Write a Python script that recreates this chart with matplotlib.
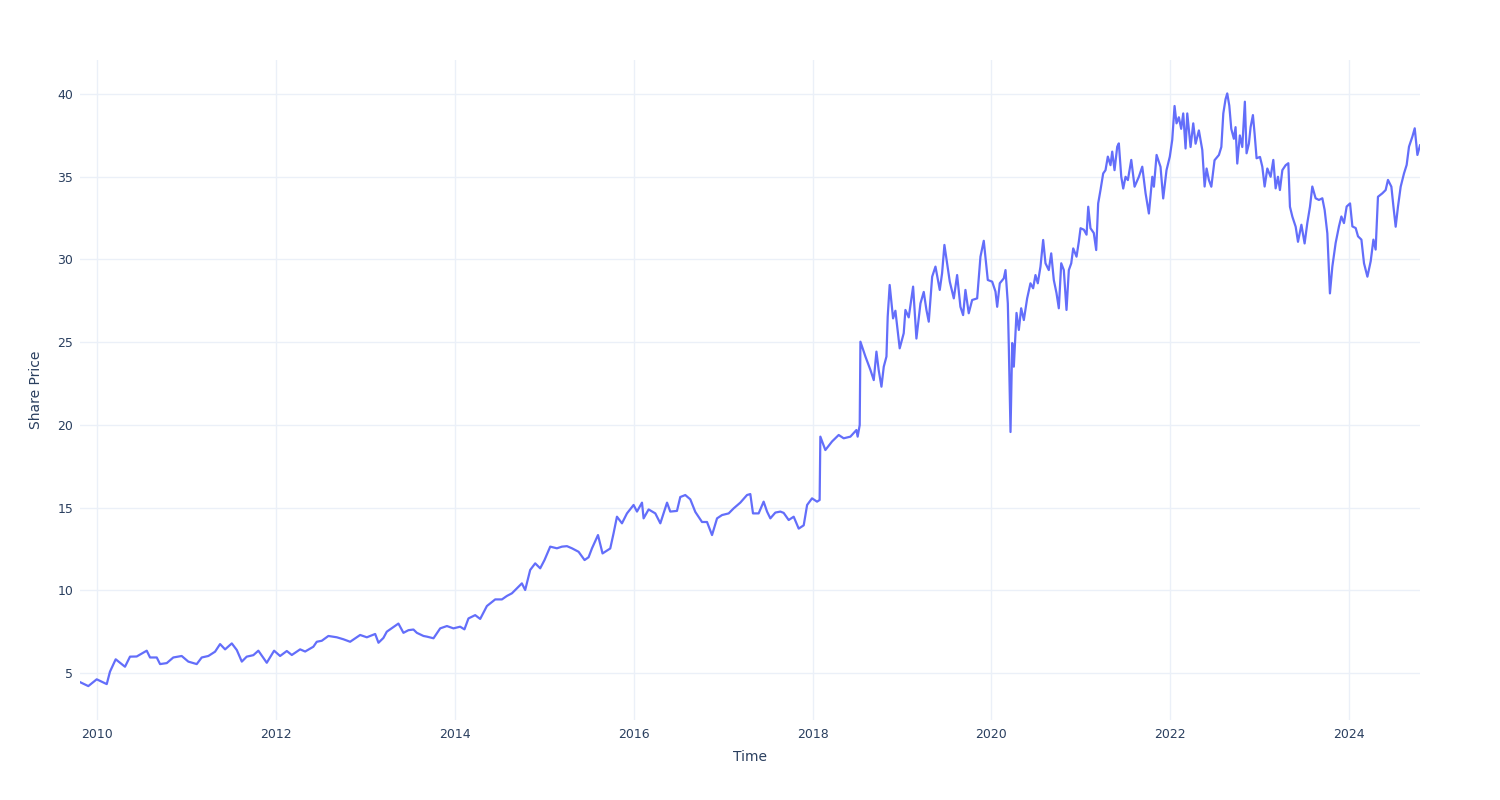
import numpy as np
import pandas as pd
import matplotlib
matplotlib.use("Agg")
import matplotlib.pyplot as plt
import matplotlib.dates as mdates

# share price, time as decimal years
t_2010_2013 = [
    2009.810, 2009.903, 2009.997, 2010.109, 2010.145, 2010.209, 2010.313, 2010.369,
    2010.444, 2010.556, 2010.593, 2010.668, 2010.705, 2010.780, 2010.853, 2010.947,
    2011.021, 2011.115, 2011.171, 2011.245, 2011.320, 2011.376, 2011.432, 2011.507,
    2011.563, 2011.619, 2011.674, 2011.748, 2011.804, 2011.898, 2011.980, 2012.047,
    2012.122, 2012.178, 2012.271, 2012.327, 2012.419, 2012.457, 2012.513, 2012.587,
    2012.681, 2012.755, 2012.830, 2012.942, 2013.017, 2013.110, 2013.147, 2013.202,
    2013.240, 2013.370, 2013.426, 2013.482, 2013.538, 2013.576, 2013.650, 2013.688,
]
p_2010_2013 = [
    4.45, 4.21, 4.62, 4.33, 5.08, 5.83, 5.38, 5.99,
    6.00, 6.35, 5.94, 5.94, 5.54, 5.60, 5.94, 6.03,
    5.69, 5.54, 5.94, 6.03, 6.29, 6.75, 6.43, 6.79,
    6.39, 5.69, 5.99, 6.08, 6.35, 5.62, 6.35, 6.03,
    6.33, 6.09, 6.43, 6.30, 6.59, 6.89, 6.95, 7.24,
    7.16, 7.04, 6.89, 7.30, 7.16, 7.36, 6.83, 7.12,
    7.50, 7.99, 7.43, 7.59, 7.63, 7.43, 7.24, 7.20,
]

t_2014_2017 = [
    2013.762, 2013.837, 2013.912, 2013.985, 2014.060, 2014.108, 2014.153, 2014.228,
    2014.284, 2014.359, 2014.452, 2014.527, 2014.583, 2014.639, 2014.695, 2014.750,
    2014.787, 2014.843, 2014.899, 2014.955, 2015.003, 2015.067, 2015.142, 2015.198,
    2015.254, 2015.310, 2015.384, 2015.451, 2015.496, 2015.534, 2015.601, 2015.652,
    2015.738, 2015.775, 2015.813, 2015.869, 2015.925, 2015.999, 2016.037, 2016.093,
    2016.111, 2016.167, 2016.242, 2016.298, 2016.373, 2016.409, 2016.484, 2016.521,
    2016.577, 2016.633, 2016.689, 2016.764, 2016.820, 2016.876, 2016.932, 2016.988,
    2017.062, 2017.117, 2017.192, 2017.267, 2017.304, 2017.334, 2017.397, 2017.453,
    2017.491, 2017.528, 2017.584, 2017.640, 2017.677, 2017.733, 2017.789, 2017.845,
    2017.901, 2017.939, 2017.994,
]
p_2014_2017 = [
    7.10, 7.70, 7.84, 7.70, 7.80, 7.64, 8.30, 8.50,
    8.27, 9.05, 9.45, 9.45, 9.66, 9.82, 10.12, 10.42,
    10.02, 11.23, 11.63, 11.33, 11.83, 12.64, 12.54, 12.64,
    12.67, 12.54, 12.33, 11.83, 12.00, 12.54, 13.34, 12.23,
    12.53, 13.44, 14.45, 14.05, 14.65, 15.16, 14.76, 15.30,
    14.35, 14.89, 14.65, 14.05, 15.30, 14.76, 14.80, 15.64,
    15.76, 15.50, 14.74, 14.13, 14.13, 13.34, 14.35, 14.55,
    14.65, 14.95, 15.30, 15.76, 15.82, 14.65, 14.65, 15.36,
    14.76, 14.35, 14.70, 14.76, 14.68, 14.25, 14.45, 13.73,
    13.93, 15.16, 15.56,
]

t_2018_2020 = [
    2018.050, 2018.079, 2018.087, 2018.143, 2018.218, 2018.292, 2018.348, 2018.423,
    2018.490, 2018.504, 2018.527, 2018.535, 2018.591, 2018.647, 2018.684, 2018.714,
    2018.739, 2018.770, 2018.796, 2018.826, 2018.840, 2018.862, 2018.900, 2018.926,
    2018.974, 2019.019, 2019.038, 2019.075, 2019.124, 2019.161, 2019.206, 2019.243,
    2019.273, 2019.299, 2019.337, 2019.374, 2019.422, 2019.448, 2019.474, 2019.504,
    2019.534, 2019.579, 2019.616, 2019.653, 2019.683, 2019.709, 2019.746, 2019.784,
    2019.840, 2019.877, 2019.914, 2019.959, 2020.008, 2020.045, 2020.064, 2020.093,
    2020.138, 2020.157, 2020.183, 2020.194, 2020.213, 2020.232, 2020.250, 2020.280,
    2020.306, 2020.332, 2020.362, 2020.399, 2020.436, 2020.466, 2020.492, 2020.518,
    2020.548, 2020.578, 2020.604, 2020.641, 2020.668, 2020.697, 2020.727, 2020.753,
    2020.780, 2020.809, 2020.839, 2020.865, 2020.892, 2020.914, 2020.951, 2020.977,
]
p_2018_2020 = [
    15.36, 15.46, 19.29, 18.48, 19.00, 19.39, 19.19, 19.29,
    19.69, 19.29, 19.99, 25.03, 24.13, 23.32, 22.71, 24.43,
    23.32, 22.31, 23.52, 24.13, 26.54, 28.46, 26.44, 26.90,
    24.63, 25.54, 26.95, 26.50, 28.36, 25.22, 27.34, 28.04,
    26.95, 26.24, 28.96, 29.57, 28.16, 29.17, 30.88, 29.77,
    28.66, 27.65, 29.06, 27.14, 26.64, 28.16, 26.75, 27.55,
    27.65, 30.17, 31.13, 28.76, 28.66, 28.06, 27.14, 28.56,
    28.86, 29.36, 27.34, 24.73, 19.57, 24.95, 23.52, 26.77,
    25.74, 27.05, 26.34, 27.65, 28.56, 28.26, 29.06, 28.56,
    29.57, 31.18, 29.77, 29.36, 30.37, 28.76, 27.97, 27.05,
    29.77, 29.36, 26.95, 29.36, 29.77, 30.67, 30.17, 31.09,
]

t_2021_2024 = [
    2020.996, 2021.033, 2021.063, 2021.082, 2021.107, 2021.144, 2021.171, 2021.193,
    2021.219, 2021.249, 2021.275, 2021.301, 2021.331, 2021.350, 2021.376, 2021.406,
    2021.424, 2021.451, 2021.473, 2021.499, 2021.525, 2021.563, 2021.600, 2021.648,
    2021.686, 2021.723, 2021.760, 2021.798, 2021.816, 2021.846, 2021.890, 2021.920,
    2021.957, 2021.994, 2022.021, 2022.047, 2022.069, 2022.095, 2022.121, 2022.144,
    2022.170, 2022.189, 2022.226, 2022.256, 2022.282, 2022.319, 2022.357, 2022.383,
    2022.405, 2022.431, 2022.458, 2022.494, 2022.543, 2022.570, 2022.592, 2022.617,
    2022.636, 2022.659, 2022.681, 2022.710, 2022.729, 2022.748, 2022.777, 2022.804,
    2022.833, 2022.852, 2022.878, 2022.897, 2022.923, 2022.942, 2022.964, 2023.002,
    2023.028, 2023.054, 2023.084, 2023.121, 2023.151, 2023.177, 2023.203, 2023.225,
    2023.252, 2023.289, 2023.319, 2023.337, 2023.364, 2023.401, 2023.427, 2023.465,
    2023.501, 2023.531, 2023.561, 2023.587, 2023.624, 2023.661, 2023.699, 2023.725,
    2023.755, 2023.784, 2023.811, 2023.848, 2023.885, 2023.912, 2023.941, 2023.971,
    2024.009, 2024.035, 2024.072, 2024.098, 2024.136, 2024.165, 2024.203, 2024.240,
    2024.270, 2024.295, 2024.321, 2024.370, 2024.407, 2024.433, 2024.471, 2024.494,
    2024.519, 2024.545, 2024.575, 2024.612, 2024.642, 2024.668, 2024.706, 2024.732,
    2024.762, 2024.791,
]
p_2021_2024 = [
    31.89, 31.80, 31.50, 33.19, 31.89, 31.60, 30.57, 33.39,
    34.20, 35.20, 35.40, 36.22, 35.70, 36.52, 35.40, 36.82,
    37.02, 35.01, 34.29, 35.00, 34.80, 36.02, 34.40, 35.00,
    35.61, 34.00, 32.78, 35.00, 34.40, 36.32, 35.60, 33.69,
    35.40, 36.22, 37.23, 39.28, 38.23, 38.60, 37.90, 38.83,
    36.71, 38.83, 36.80, 38.23, 37.00, 37.80, 36.62, 34.41,
    35.50, 34.80, 34.40, 36.00, 36.32, 36.80, 38.83, 39.69,
    40.04, 39.30, 37.90, 37.30, 38.00, 35.80, 37.50, 36.80,
    39.54, 36.42, 37.00, 38.00, 38.73, 37.60, 36.12, 36.20,
    35.61, 34.41, 35.50, 35.00, 36.02, 34.30, 35.00, 34.20,
    35.40, 35.70, 35.82, 33.19, 32.59, 31.98, 31.07, 32.10,
    30.97, 32.20, 33.19, 34.41, 33.70, 33.60, 33.70, 32.99,
    31.58, 27.95, 29.57, 31.00, 32.00, 32.60, 32.20, 33.20,
    33.39, 32.00, 31.90, 31.40, 31.20, 29.77, 28.96, 29.90,
    31.20, 30.60, 33.79, 34.00, 34.20, 34.81, 34.40, 33.20,
    31.98, 33.20, 34.40, 35.20, 35.72, 36.82, 37.43, 37.93,
    36.32, 36.90,
]

years = np.array(t_2010_2013 + t_2014_2017 + t_2018_2020 + t_2021_2024)
price = np.array(p_2010_2013 + p_2014_2017 + p_2018_2020 + p_2021_2024)


def to_dates(yr):
    # decimal year -> timestamp
    base = pd.Timestamp("2010-01-01")
    return base + pd.to_timedelta((np.asarray(yr) - 2010.0) * 365.25, unit="D")


dates = to_dates(years)

text_col = "#2a3f5f"
grid_col = "#ebf0f8"

fig = plt.figure(figsize=(15, 8), dpi=100)
ax = fig.add_axes([80 / 1500, 80 / 800, 1340 / 1500, 660 / 800])

ax.plot(dates, price, color="#636efa", linewidth=1.6, solid_joinstyle="round")

ax.set_xlim(dates[0], dates[-1])
ax.set_ylim(2.16, 42.06)

ax.xaxis.set_major_locator(mdates.YearLocator(2))
ax.xaxis.set_major_formatter(mdates.DateFormatter("%Y"))
ax.set_yticks([5, 10, 15, 20, 25, 30, 35, 40])

ax.grid(True, color=grid_col, linewidth=1)
ax.set_axisbelow(True)
for s in ax.spines.values():
    s.set_visible(False)
ax.tick_params(length=0, labelsize=9, labelcolor=text_col, pad=6)
ax.tick_params(axis="y", pad=5)

ax.set_xlabel("Time", fontsize=10, color=text_col, labelpad=6)
ax.set_ylabel("Share Price", fontsize=10, color=text_col, labelpad=10)

fig.savefig("out.png", dpi=100, facecolor="white")
